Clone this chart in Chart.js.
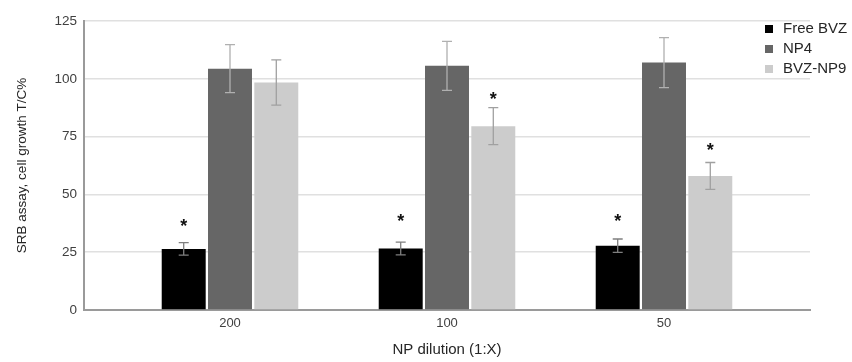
<!DOCTYPE html>
<html>
<head>
<meta charset="utf-8">
<script src="https://cdn.jsdelivr.net/npm/chart.js@4/dist/chart.umd.min.js"></script>
<style>
    html, body { margin: 0; padding: 0; background: #ffffff; }
    #wrap { width: 852px; height: 362px; position: relative; }
</style>
</head>
<body>
<div id="wrap"><canvas id="srbChart"></canvas></div>
<script>
// NP dilutions on the x axis
const dilutions = ['200', '100', '50'];

// SRB assay, cell growth T/C% (means and error bars)
const freeBVZ = [26.4, 26.6, 27.8];
const freeBVZErr = [2.7, 2.8, 2.9];
const np4 = [104.4, 105.6, 107.0];
const np4Err = [10.4, 10.6, 10.8];
const bvzNP9 = [98.4, 79.5, 58.0];
const bvzNP9Err = [9.8, 8.0, 5.8];

// significance marks (y level of the asterisk, null = no mark)
const freeBVZStars = [37.6, 39.7, 39.7];
const np4Stars = [null, null, null];
const bvzNP9Stars = [null, 92.5, 70.3];

const yTicks = [0, 25, 50, 75, 100, 125];

const FONT = "'Liberation Sans', Arial, sans-serif";

function points(values) {
    return values.map((v, i) => ({ x: i, y: v }));
}

const errorBars = {
    id: 'errorBars',
    afterDatasetsDraw(chart) {
        const ctx = chart.ctx;
        const yScale = chart.scales.y;
        ctx.save();
        chart.data.datasets.forEach((ds, di) => {
            const meta = chart.getDatasetMeta(di);
            meta.data.forEach((bar, i) => {
                const v = ds.data[i].y;
                const e = ds.errors[i];
                const top = yScale.getPixelForValue(v + e);
                const bot = yScale.getPixelForValue(v - e);
                ctx.strokeStyle = ds.errorColor;
                ctx.lineWidth = 1.3;
                ctx.beginPath();
                ctx.moveTo(bar.x, top);
                ctx.lineTo(bar.x, bot);
                ctx.moveTo(bar.x - 5, top);
                ctx.lineTo(bar.x + 5, top);
                ctx.moveTo(bar.x - 5, bot);
                ctx.lineTo(bar.x + 5, bot);
                ctx.stroke();

                const s = ds.stars[i];
                if (s !== null) {
                    ctx.fillStyle = '#111111';
                    ctx.font = 'bold 18px ' + FONT;
                    ctx.textAlign = 'center';
                    ctx.textBaseline = 'alphabetic';
                    ctx.fillText('*', bar.x, yScale.getPixelForValue(s) + 9);
                }
            });
        });
        ctx.restore();
    }
};

const sideLegend = {
    id: 'sideLegend',
    afterDraw(chart) {
        const ctx = chart.ctx;
        ctx.save();
        ctx.font = '15px ' + FONT;
        ctx.textAlign = 'left';
        ctx.textBaseline = 'middle';
        chart.data.datasets.forEach((ds, i) => {
            const y = 29 + i * 20;
            ctx.fillStyle = ds.backgroundColor;
            ctx.fillRect(765, y - 4, 8, 8);
            ctx.fillStyle = '#262626';
            ctx.fillText(ds.label, 783, y);
        });
        ctx.restore();
    }
};

const ctx = document.getElementById('srbChart').getContext('2d');

new Chart(ctx, {
    type: 'bar',
    data: {
        datasets: [
            {
                label: 'Free BVZ',
                data: points(freeBVZ),
                errors: freeBVZErr,
                stars: freeBVZStars,
                backgroundColor: '#000000',
                errorColor: '#7f7f7f'
            },
            {
                label: 'NP4',
                data: points(np4),
                errors: np4Err,
                stars: np4Stars,
                backgroundColor: '#666666',
                errorColor: '#b0b0b0'
            },
            {
                label: 'BVZ-NP9',
                data: points(bvzNP9),
                errors: bvzNP9Err,
                stars: bvzNP9Stars,
                backgroundColor: '#cccccc',
                errorColor: '#a0a0a0'
            }
        ]
    },
    options: {
        responsive: true,
        maintainAspectRatio: false,
        animation: false,
        categoryPercentage: 0.64,
        barPercentage: 0.95,
        layout: {
            padding: { left: 10, right: 42, top: 21, bottom: 0 }
        },
        scales: {
            x: {
                type: 'linear',
                offset: false,
                min: -0.6728,
                max: 2.6728,
                afterBuildTicks: scale => {
                    scale.ticks = dilutions.map((_, i) => ({ value: i }));
                },
                afterFit: scale => { scale.height = 52; },
                ticks: {
                    color: '#404040',
                    font: { family: FONT, size: 13 },
                    padding: 6,
                    callback: v => dilutions[v]
                },
                grid: { display: false, drawTicks: false, offset: false },
                border: { display: true, color: '#9a9a9a', width: 2 },
                title: {
                    display: true,
                    text: 'NP dilution (1:X)',
                    color: '#262626',
                    font: { family: FONT, size: 15 },
                    padding: { top: 4, bottom: 3 }
                }
            },
            y: {
                min: 0,
                max: 125,
                afterBuildTicks: scale => {
                    scale.ticks = yTicks.map(v => ({ value: v }));
                },
                afterFit: scale => { scale.width = 74; },
                ticks: {
                    color: '#404040',
                    font: { family: FONT, size: 13.5 },
                    padding: 7
                },
                grid: { color: '#e0e0e0', lineWidth: 1.5, drawTicks: false },
                border: { display: true, color: '#9a9a9a', width: 2 },
                title: {
                    display: true,
                    text: 'SRB assay, cell growth T/C%',
                    color: '#262626',
                    font: { family: FONT, size: 13.5 },
                    padding: { top: 4, bottom: 4 }
                }
            }
        },
        plugins: {
            legend: { display: false },
            tooltip: { enabled: false }
        }
    },
    plugins: [errorBars, sideLegend]
});
</script>
</body>
</html>
